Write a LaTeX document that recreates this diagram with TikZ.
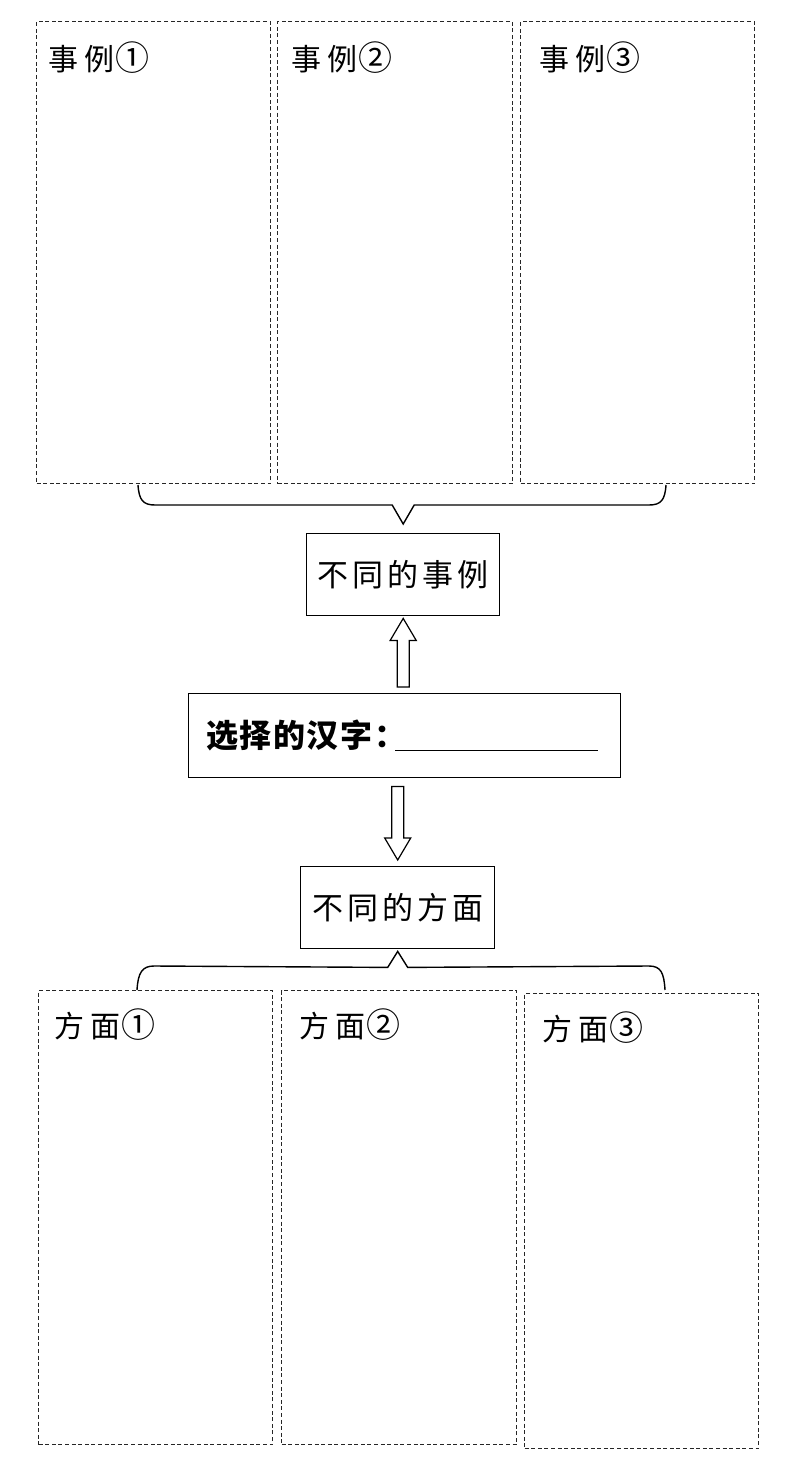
\documentclass[tikz,border=0pt]{standalone}
\usepackage{fontspec}
\newfontfamily\cjk{Noto Sans CJK SC}
\newcommand{\chgap}{\kern4pt}
\newcommand{\bgap}{\kern1.5pt}
\newcommand{\cnum}[1]{{\fontsize{34}{34}\selectfont #1}}
\begin{document}
\begin{tikzpicture}[x=1pt,y=-1pt,
  dbox/.style={draw=black!85, line width=1.2pt, dash pattern=on 4pt off 2.6pt, inner sep=0pt, anchor=north west},
  sbox/.style={draw=black, line width=1.4pt, inner sep=0pt, anchor=north west},
  lbl/.style={inner sep=0pt, anchor=west, font=\cjk\fontsize{30}{32}\selectfont},
  btxt/.style={inner sep=0pt, font=\cjk\fontsize{31}{33}\selectfont},
  hollow/.style={draw=black, line width=1.2pt, fill=white, line join=miter},
  brace/.style={draw=black, line width=1.4pt, line join=miter}]
\useasboundingbox (0,0) rectangle (787,1464);
% top example boxes
\node[dbox, minimum width=234pt, minimum height=462pt] (e1) at (36,21) {};
\node[dbox, minimum width=235pt, minimum height=462pt] (e2) at (277,21) {};
\node[dbox, minimum width=234pt, minimum height=462pt] (e3) at (520,21) {};
\node[lbl] (le1) at ([shift={(12,37)}]e1.north west) {事\kern6pt 例\kern1pt\cnum{①}};
\node[lbl] (le2) at ([shift={(14,37)}]e2.north west) {事\kern6pt 例\kern1pt\cnum{②}};
\node[lbl] (le3) at ([shift={(19,37)}]e3.north west) {事\kern6pt 例\kern1pt\cnum{③}};
% center boxes
\node[sbox, minimum width=193pt, minimum height=82pt] (ex) at (306,533) {};
\node[btxt] (tex) at (ex.center) {不\chgap 同\chgap 的\chgap 事\chgap 例};
\node[sbox, minimum width=432pt, minimum height=84pt] (mid) at (188,693) {};
\node[btxt, anchor=west, font=\cjk\bfseries\fontsize{32}{34}\selectfont] (tmid) at ([xshift=18pt]mid.west) {选\bgap 择\bgap 的\bgap 汉\bgap 字\kern2pt：};
\coordinate (ul1) at ([shift={(207,15)}]mid.west);
\coordinate (ul2) at ([shift={(410,15)}]mid.west);
\draw[line width=1pt] (ul1) -- (ul2);
\node[sbox, minimum width=194pt, minimum height=82pt] (asp) at (300,866) {};
\node[btxt] (tasp) at (asp.center) {不\chgap 同\chgap 的\chgap 方\chgap 面};
% bottom aspect boxes
\node[dbox, minimum width=234pt, minimum height=454pt] (a1) at (38,990) {};
\node[dbox, minimum width=235pt, minimum height=454pt] (a2) at (281,990) {};
\node[dbox, minimum width=234pt, minimum height=455pt] (a3) at (524,993) {};
\node[lbl] (la1) at ([shift={(16,35)}]a1.north west) {方\kern6pt 面\kern1pt\cnum{①}};
\node[lbl] (la2) at ([shift={(18,35)}]a2.north west) {方\kern6pt 面\kern1pt\cnum{②}};
\node[lbl] (la3) at ([shift={(18,35)}]a3.north west) {方\kern6pt 面\kern1pt\cnum{③}};
% hollow arrows
\coordinate (upb) at (mid.north -| ex.south);
\coordinate (upt) at ([yshift=-2pt]ex.south);
\draw[hollow] ([shift={(-6,-6)}]upb) -- ([shift={(-6,22)}]upt) -- ([shift={(-13,22)}]upt) -- (upt) -- ([shift={(13,22)}]upt) -- ([shift={(6,22)}]upt) -- ([shift={(6,-6)}]upb) -- cycle;
\coordinate (dnt) at (mid.south -| asp.north);
\coordinate (dnp) at ([yshift=6pt]asp.north);
\draw[hollow] ([shift={(-6,8)}]dnt) -- ([shift={(-6,-22)}]dnp) -- ([shift={(-13,-22)}]dnp) -- (dnp) -- ([shift={(13,-22)}]dnp) -- ([shift={(6,-22)}]dnp) -- ([shift={(6,8)}]dnt) -- cycle;
% top brace
\coordinate (tb) at ([yshift=9pt]ex.north);
\draw[brace] (138,485) .. controls (139,500) and (143,505) .. (155,505) -- ([shift={(-11,-19)}]tb) -- (tb) -- ([shift={(11,-19)}]tb) -- (649,505) .. controls (661,505) and (665,500) .. (666,485);
% bottom brace
\coordinate (bb) at ([yshift=-2pt]asp.south);
\draw[brace] (137,990) .. controls (138,973) and (142,966) .. (154,966) -- ([shift={(-10,16)}]bb) -- (bb) -- ([shift={(10,16)}]bb) -- (649,966) .. controls (661,966) and (664,973) .. (665,990);
\end{tikzpicture}
\end{document}
